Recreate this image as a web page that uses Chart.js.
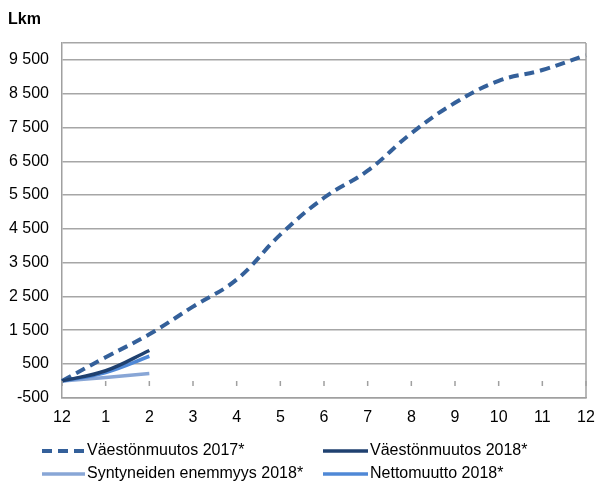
<!DOCTYPE html>
<html>
<head>
<meta charset="utf-8">
<script src="https://cdn.jsdelivr.net/npm/chart.js@4/dist/chart.umd.min.js"></script>
<style>
html,body{margin:0;padding:0;background:#fff;}
#wrap{position:relative;width:596px;height:481px;}
</style>
</head>
<body>
<div id="wrap"><canvas id="c" width="596" height="481"></canvas></div>
<script>
const categories = ['12','1','2','3','4','5','6','7','8','9','10','11','12'];
const vaesto2017 = [0, 700, 1380, 2200, 3000, 4330, 5420, 6220, 7330, 8230, 8880, 9200, 9640];
const vaesto2018 = [0, 300, 900];
const syntyneet2018 = [0, 100, 220];
const netto2018 = [0, 250, 730];
const yTicks = [-500, 500, 1500, 2500, 3500, 4500, 5500, 6500, 7500, 8500, 9500];
const seriesNames = ['Väestönmuutos 2017*', 'Väestönmuutos 2018*', 'Syntyneiden enemmyys 2018*', 'Nettomuutto 2018*'];
const colors = ['#34609A', '#1F4170', '#88A6D6', '#4F88D6'];

const FONT = 'Liberation Sans, Arial, sans-serif';
const fmt = v => {
  const s = Math.abs(v).toString().replace(/\B(?=(\d{3})+(?!\d))/g, ' ');
  return (v < 0 ? '-' : '') + s;
};

const framePlugin = {
  id: 'frame',
  afterDatasetsDraw(chart) {
    const {ctx, chartArea: a, scales} = chart;
    ctx.save();
    ctx.strokeStyle = '#a0a0a0';
    ctx.lineWidth = 1.5;
    ctx.beginPath();
    ctx.moveTo(a.right, a.top); ctx.lineTo(a.right, a.bottom);
    ctx.stroke();
    const y0 = scales.y.getPixelForValue(0);
    ctx.beginPath();
    categories.forEach((c, i) => {
      const x = scales.x.getPixelForValue(i);
      ctx.moveTo(x, y0); ctx.lineTo(x, y0 + 5);
    });
    ctx.stroke();
    ctx.restore();
  },
  afterDraw(chart) {
    const ctx = chart.ctx;
    ctx.save();
    ctx.fillStyle = '#000';
    ctx.font = 'bold 16px ' + FONT;
    ctx.textBaseline = 'middle';
    ctx.fillText('Lkm', 8, 20);
    const items = [
      {x0: 42, x1: 84, tx: 87, y: 451, dash: [10, 6]},
      {x0: 323, x1: 368, tx: 370, y: 451, dash: []},
      {x0: 42, x1: 85, tx: 87, y: 474, dash: []},
      {x0: 323, x1: 368, tx: 370, y: 474, dash: []}
    ];
    items.forEach((it, i) => {
      ctx.strokeStyle = colors[i];
      ctx.lineWidth = i === 0 ? 4 : 3.5;
      ctx.setLineDash(it.dash);
      ctx.beginPath();
      ctx.moveTo(it.x0, it.y); ctx.lineTo(it.x1, it.y);
      ctx.stroke();
      ctx.setLineDash([]);
      ctx.font = '16px ' + FONT;
      ctx.fillStyle = '#000';
      ctx.textAlign = 'left';
      ctx.fillText(seriesNames[i], it.tx, it.y);
    });
    ctx.restore();
  }
};

new Chart(document.getElementById('c'), {
  type: 'line',
  data: {
    labels: categories,
    datasets: [
      {label: seriesNames[0], data: vaesto2017, borderColor: colors[0], borderWidth: 4, borderDash: [10, 6], order: 4},
      {label: seriesNames[1], data: vaesto2018, borderColor: colors[1], borderWidth: 3.5, order: 1},
      {label: seriesNames[2], data: syntyneet2018, borderColor: colors[2], borderWidth: 3.5, order: 3},
      {label: seriesNames[3], data: netto2018, borderColor: colors[3], borderWidth: 3.5, order: 2}
    ]
  },
  options: {
    responsive: false,
    animation: false,
    devicePixelRatio: 1,
    layout: {padding: {top: 43, right: 0, bottom: 44, left: 0}},
    elements: {
      point: {radius: 0, hoverRadius: 0},
      line: {tension: 0.4, cubicInterpolationMode: 'default', fill: false, borderCapStyle: 'butt'}
    },
    plugins: {legend: {display: false}, tooltip: {enabled: false}},
    scales: {
      x: {
        offset: false,
        afterFit: s => { s.paddingRight = 10; },
        grid: {display: false, drawTicks: false},
        border: {display: true, color: '#a0a0a0', width: 1.5},
        ticks: {color: '#000', font: {family: FONT, size: 16}, padding: 10, maxRotation: 0, autoSkip: false}
      },
      y: {
        min: -500, max: 10000,
        afterBuildTicks: s => { s.ticks = yTicks.map(v => ({value: v})).concat([{value: 10000}]); },
        afterFit: s => { s.width = 62; },
        grid: {color: '#a6a6a6', lineWidth: 1.5, drawTicks: false},
        border: {display: true, color: '#a0a0a0', width: 1.5},
        ticks: {color: '#000', font: {family: FONT, size: 16}, padding: 13,
          callback: v => v === 10000 ? '' : fmt(v)}
      }
    }
  },
  plugins: [framePlugin]
});
</script>
</body>
</html>
